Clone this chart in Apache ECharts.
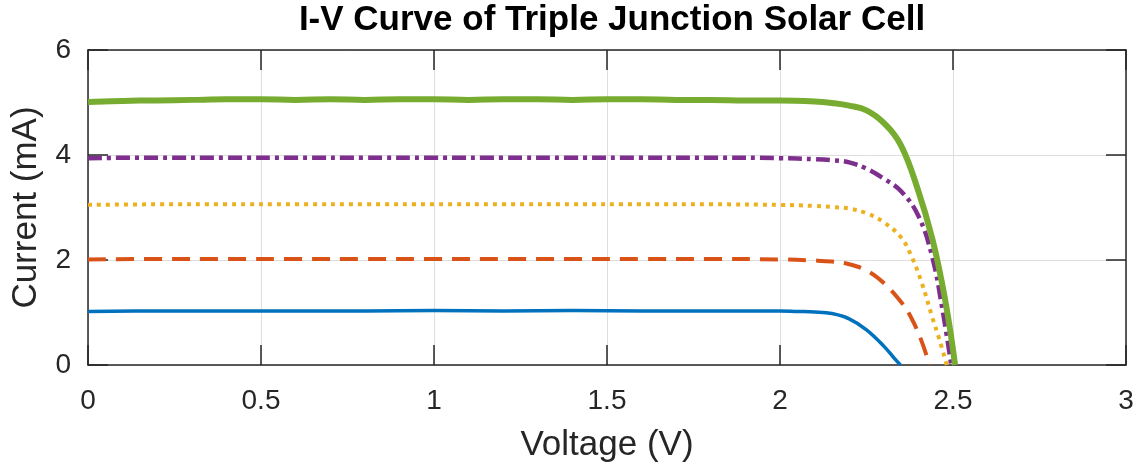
<!DOCTYPE html>
<html>
<head>
<meta charset="utf-8">
<script src="https://cdn.jsdelivr.net/npm/echarts@6/dist/echarts.min.js"></script>
<style>
html,body{margin:0;padding:0;background:#fff;}
#chart{width:1141px;height:473px;}
</style>
</head>
<body>
<div id="chart"></div>
<script>
// Tick labels
const xTicks = [0, 0.5, 1, 1.5, 2, 2.5, 3];
const yTicks = [0, 2, 4, 6];

// Voltage (V) / Current (mA) for each curve
const vBlue   = [0, 0.2, 0.4, 0.6, 0.8, 1.0, 1.2, 1.4, 1.6, 1.8, 2.0, 2.05, 2.1, 2.15, 2.2, 2.25, 2.3, 2.33, 2.348];
const iBlue   = [1.02, 1.03, 1.03, 1.03, 1.03, 1.04, 1.03, 1.04, 1.03, 1.03, 1.03, 1.02, 1.01, 0.98, 0.88, 0.67, 0.36, 0.13, 0];

const vRed    = [0, 0.2, 0.4, 0.6, 0.8, 1.0, 1.2, 1.4, 1.6, 1.8, 2.0, 2.1, 2.15, 2.2, 2.25, 2.3, 2.35, 2.38, 2.41, 2.432];
const iRed    = [2.01, 2.02, 2.02, 2.02, 2.02, 2.02, 2.02, 2.02, 2.02, 2.02, 2.01, 1.99, 1.97, 1.92, 1.8, 1.56, 1.2, 0.89, 0.44, 0];

const vYellow = [0, 0.2, 0.4, 0.6, 0.8, 1.0, 1.2, 1.4, 1.6, 1.8, 2.0, 2.1, 2.15, 2.2, 2.25, 2.3, 2.35, 2.38, 2.41, 2.44, 2.46, 2.482];
const iYellow = [3.05, 3.06, 3.06, 3.06, 3.06, 3.06, 3.06, 3.06, 3.06, 3.06, 3.05, 3.03, 3.01, 2.98, 2.89, 2.72, 2.43, 2.07, 1.56, 0.91, 0.5, 0];

const vPurple = [0, 0.2, 0.4, 0.6, 0.8, 1.0, 1.2, 1.4, 1.6, 1.8, 2.0, 2.1, 2.15, 2.2, 2.25, 2.3, 2.35, 2.4, 2.44, 2.47, 2.495];
const iPurple = [3.94, 3.95, 3.95, 3.95, 3.95, 3.95, 3.95, 3.95, 3.95, 3.95, 3.94, 3.92, 3.9, 3.86, 3.74, 3.55, 3.31, 2.84, 2.06, 1.04, 0];

const vGreen  = [0, 0.1, 0.2, 0.3, 0.4, 0.5, 0.6, 0.7, 0.8, 0.9, 1.0, 1.1, 1.2, 1.3, 1.4, 1.5, 1.6, 1.7, 1.8, 1.9, 2.0, 2.1, 2.15, 2.2, 2.25, 2.3, 2.35, 2.4, 2.44, 2.47, 2.49, 2.506];
const iGreen  = [5.01, 5.03, 5.04, 5.05, 5.06, 5.06, 5.05, 5.06, 5.05, 5.06, 5.06, 5.05, 5.06, 5.06, 5.05, 5.06, 5.06, 5.05, 5.05, 5.04, 5.04, 5.02, 4.99, 4.94, 4.85, 4.61, 4.18, 3.31, 2.41, 1.5, 0.74, 0];

const pairs = (v, i) => v.map((x, k) => [x, i[k]]);
const font = 'Liberation Sans, Arial, Helvetica, sans-serif';
const ink = '#262626';

const chart = echarts.init(document.getElementById('chart'), null, {renderer: 'canvas'});

const frameAxis = {
  axisLine: {show: true, onZero: false, lineStyle: {color: ink, width: 1.5}},
  axisTick: {show: true, inside: true, length: 20, lineStyle: {color: ink, width: 1.5}},
  axisLabel: {show: false},
  splitLine: {show: false}
};

function line(data, color, width, type) {
  return {
    type: 'line', data: data, showSymbol: false, symbol: 'none',
    smooth: 0.4,
    lineStyle: {color: color, width: width, type: type, cap: 'butt', join: 'round'},
    animation: false, z: 3
  };
}

chart.setOption({
  animation: false,
  backgroundColor: '#fff',
  title: {
    text: 'I-V Curve of Triple Junction Solar Cell',
    left: 607, top: -2, textAlign: 'center',
    textStyle: {fontFamily: font, fontSize: 35, fontWeight: 'bold', color: '#000'}
  },
  grid: {left: 88, right: 15, top: 50, bottom: 108, containLabel: false},
  xAxis: [{
    type: 'value', min: xTicks[0], max: xTicks[xTicks.length - 1], interval: 0.5,
    position: 'bottom',
    name: 'Voltage (V)', nameLocation: 'middle', nameGap: 63,
    nameTextStyle: {fontFamily: font, fontSize: 35, color: ink},
    axisLine: {show: true, onZero: false, lineStyle: {color: ink, width: 1.5}},
    axisTick: {show: true, inside: true, length: 20, lineStyle: {color: ink, width: 1.5}},
    axisLabel: {fontFamily: font, fontSize: 28, color: ink, margin: 22},
    splitLine: {show: true, lineStyle: {color: '#dedede', width: 1}}
  }, Object.assign({type: 'value', min: 0, max: 3, interval: 0.5, position: 'top'}, frameAxis)],
  yAxis: [{
    type: 'value', min: yTicks[0], max: yTicks[yTicks.length - 1], interval: 2,
    position: 'left',
    name: 'Current (mA)', nameLocation: 'middle', nameGap: 44,
    nameTextStyle: {fontFamily: font, fontSize: 35, color: ink},
    axisLine: {show: true, onZero: false, lineStyle: {color: ink, width: 1.5}},
    axisTick: {show: true, inside: true, length: 20, lineStyle: {color: ink, width: 1.5}},
    axisLabel: {fontFamily: font, fontSize: 28, color: ink, margin: 17},
    splitLine: {show: true, lineStyle: {color: '#dedede', width: 1}}
  }, Object.assign({type: 'value', min: 0, max: 6, interval: 2, position: 'right'}, frameAxis)],
  series: [
    line(pairs(vBlue, iBlue), '#0072BD', 3.5, 'solid'),
    line(pairs(vRed, iRed), '#D95319', 4, [18, 10]),
    line(pairs(vYellow, iYellow), '#EDB120', 4, [4, 5]),
    line(pairs(vPurple, iPurple), '#7E2F8E', 4.5, [14, 5, 4, 5]),
    line(pairs(vGreen, iGreen), '#77AC30', 6, 'solid')
  ]
});
</script>
</body>
</html>
